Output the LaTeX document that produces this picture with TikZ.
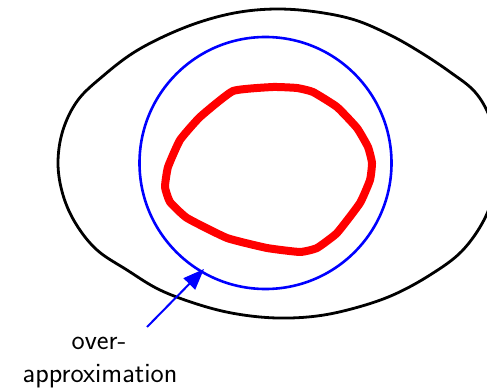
\documentclass[tikz,border=0pt]{standalone}
\usetikzlibrary{arrows.meta}
\begin{document}
\begin{tikzpicture}[x=1pt,y=-1pt,
  outer/.style={draw=black,line width=2.8pt,line join=round},
  over/.style={draw=blue,line width=2.6pt},
  inner/.style={draw=red,line width=8pt,line join=round},
  pointer/.style={draw=blue,line width=2pt,-{Triangle[length=21pt,width=16pt]}},
  lbl/.style={font=\sffamily\fontsize{28}{33}\selectfont,anchor=base,inner sep=0pt}]
\useasboundingbox (0,0) rectangle (487,390);
\clip (0,0) rectangle (487,390);
\draw[outer] plot[smooth cycle,tension=0.6] coordinates {
 (240,12) (278,9) (317,12) (355,20) (390,35) (420,52) (450,72) (475,92)
 (490,118) (497,150) (495,185) (485,218) (462,251) (430,275) (393,295)
 (355,308) (317,316) (277,318) (237,314) (200,305) (160,290) (127,270)
 (97,250) (76,224) (63,195) (58,163) (63,130) (78,100) (103,76) (133,53)
 (167,35) (203,21)};
\node[over,circle,minimum size=252pt,inner sep=0pt] (approx) at (265.5,163) {};
\draw[inner] plot[smooth cycle,tension=0.25] coordinates {
 (273,87) (233,91) (200,117) (180,140) (168,167) (165,187) (170,202) (187,218)
 (227,238) (267,248) (300,252) (317,248) (337,233) (360,203) (370,180)
 (372,163) (368,147) (357,128) (337,107) (313,92) (297,88)};
\coordinate (tail) at (147,327);
\coordinate (tip) at (204,269);
\draw[pointer] (tail) -- (tip);
\node[lbl] (l1) at (99,349) {over-};
\node[lbl] (l2) at (100,382) {approximation};
\end{tikzpicture}
\end{document}
